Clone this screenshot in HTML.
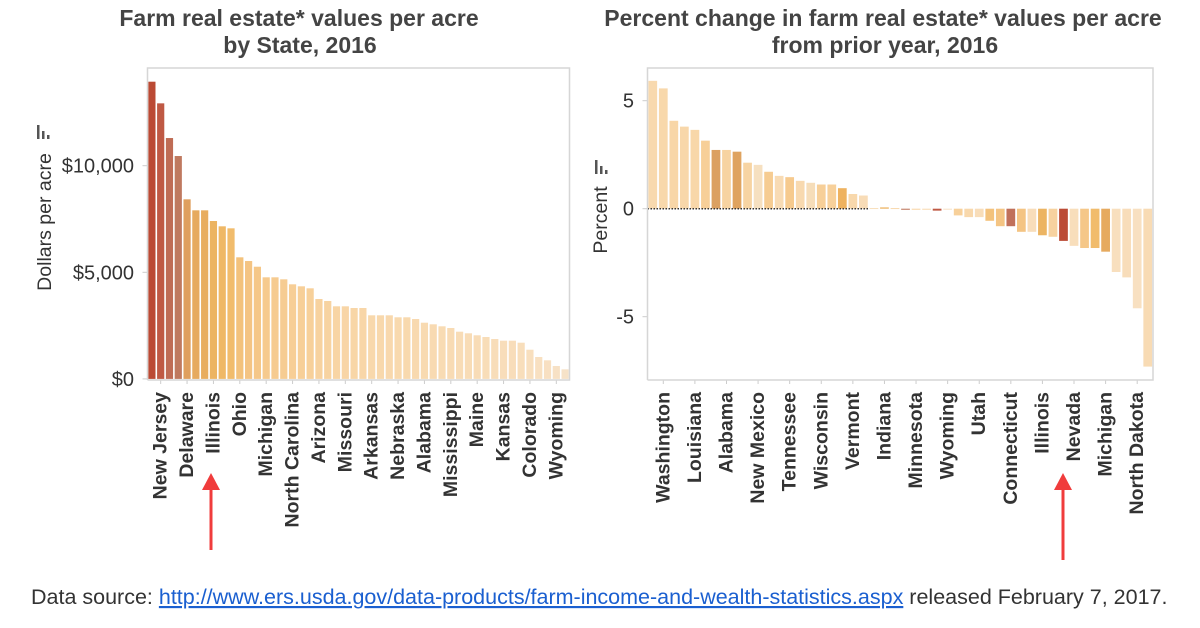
<!DOCTYPE html>
<html><head><meta charset="utf-8"><style>
body{margin:0;background:#fff;width:1200px;height:623px;overflow:hidden;font-family:"Liberation Sans",Arial,sans-serif}
svg text{font-family:"Liberation Sans",Arial,sans-serif}
</style></head><body>
<svg id="s" width="1200" height="623">
<text x="299" y="26" text-anchor="middle" font-size="23" font-weight="bold" fill="#444">Farm real estate* values per acre</text>
<text x="300" y="53" text-anchor="middle" font-size="23" font-weight="bold" fill="#444">by State, 2016</text>
<text x="883" y="26" text-anchor="middle" font-size="23" font-weight="bold" fill="#444">Percent change in farm real estate* values per acre</text>
<text x="885" y="53" text-anchor="middle" font-size="23" font-weight="bold" fill="#444">from prior year, 2016</text>
<text transform="translate(51,222) rotate(-90)" text-anchor="middle" font-size="19.5" fill="#333">Dollars per acre</text>
<text transform="translate(607,220) rotate(-90)" text-anchor="middle" font-size="19.5" fill="#333">Percent</text>
<g fill="#555"><rect x="37" y="125" width="2.5" height="14"/><rect x="42" y="131" width="2.5" height="8"/><rect x="47" y="135" width="2.5" height="4"/></g>
<g fill="#555"><rect x="595" y="160" width="2.5" height="14"/><rect x="600" y="166" width="2.5" height="8"/><rect x="605" y="170" width="2.5" height="4"/></g>
<g id="L"></g>
<g id="R"></g>
<g><line x1="211" y1="550" x2="211" y2="488" stroke="#f03c3c" stroke-width="3"/><polygon points="202,490 220,490 211,473" fill="#f03c3c"/></g>
<g><line x1="1063" y1="560" x2="1063" y2="488" stroke="#f03c3c" stroke-width="3"/><polygon points="1054,490 1072,490 1063,473" fill="#f03c3c"/></g>
<text x="31" y="604" font-size="21.5" fill="#333">Data source: <tspan fill="#1a5fd0" text-decoration="underline">http://www.ers.usda.gov/data-products/farm-income-and-wealth-statistics.aspx</tspan> released February 7, 2017.</text>
</svg>
<script>
const leftStates=["Rhode Island","New Jersey","Connecticut","Massachusetts","Delaware","Maryland","Pennsylvania","Illinois","Indiana","Iowa","Ohio","New York","California","Michigan","Florida","Wisconsin","North Carolina","Virginia","Kentucky","Arizona","Tennessee","Louisiana","Missouri","Minnesota","Georgia","Arkansas","Vermont","New Hampshire","Nebraska","Washington","South Carolina","Alabama","Idaho","West Virginia","Mississippi","Oregon","Texas","Maine","South Dakota","Utah","Kansas","Oklahoma","Nevada","Colorado","North Dakota","Montana","Wyoming","New Mexico"];
const leftValues=[13940,12925,11298,10454,8423,7907,7907,7406,7157,7063,5703,5529,5262,4765,4765,4671,4437,4343,4249,3747,3654,3405,3405,3325,3325,2983,2983,2983,2889,2889,2809,2636,2561,2467,2387,2214,2139,2045,1965,1871,1792,1792,1698,1369,1027,872,605,450];
const leftColors=["#bb4a34","#bf5944","#bf6c55","#bf795f","#df9f5e","#e6aa5f","#e8ad5f","#ecb462","#efb866","#f1bc6c","#f3c27c","#f4c483","#f5c788","#f6ca8e","#f6cb90","#f6cc92","#f7ce96","#f7cf98","#f7d09a","#f7d29f","#f7d3a1","#f8d5a5","#f8d5a6","#f8d6a7","#f8d6a8","#f8d8ac","#f8d8ac","#f8d8ad","#f8d9ae","#f8d9ae","#f8d9af","#f8dab1","#f8dab2","#f8dbb3","#f8dbb4","#f8dcb6","#f8dcb6","#f8dcb7","#f8ddb8","#f8ddb9","#f8ddba","#f8ddba","#f8debb","#f8dfbe","#f8e0c1","#f8e0c2","#f7e1c5","#f6e2c8"];
const leftTickVals=[0,5000,10000];
const leftTickLabels=["$0","$5,000","$10,000"];
const rightStates=["Oregon","Washington","Idaho","Montana","Louisiana","Texas","Maryland","Alabama","Pennsylvania","Georgia","New Mexico","Florida","Mississippi","Tennessee","South Carolina","North Carolina","Wisconsin","Virginia","Delaware","Vermont","Maine","Colorado","Indiana","New Hampshire","Massachusetts","Minnesota","West Virginia","New Jersey","Wyoming","Kentucky","Arkansas","Utah","Ohio","Missouri","Connecticut","New York","Oklahoma","Illinois","Arizona","Rhode Island","Nevada","California","Iowa","Michigan","Nebraska","Kansas","North Dakota","South Dakota"];
const rightValues=[5.92,5.57,4.07,3.80,3.65,3.15,2.72,2.72,2.64,2.13,2.03,1.71,1.52,1.46,1.29,1.20,1.12,1.12,0.95,0.68,0.61,0.03,0.06,0.03,-0.05,-0.05,-0.05,-0.09,-0.02,-0.31,-0.39,-0.39,-0.56,-0.81,-0.81,-1.07,-1.07,-1.23,-1.30,-1.49,-1.72,-1.82,-1.82,-1.99,-2.93,-3.18,-4.61,-7.31];
const rightColors=["#f8d9ae","#f8d8ab","#f8d6a7","#f8d7aa","#f8d7a9","#f7cf98","#dba062","#f7d3a1","#dfa35f","#f7d4a3","#f6e0c0","#f6cc92","#f8dbb4","#f6ca8e","#f8d9af","#f6ddb9","#f7cf98","#f7d09a","#eeb25f","#f8d8ac","#f8dcb7","#f8debb","#ecb462","#f8d8ad","#bf795f","#f8d6a8","#f8dbb3","#bf5944","#f7e1c5","#f7d09a","#f8d8ac","#f8ddb9","#f3c27c","#f4c483","#c0705a","#f4c483","#f8ddba","#ecb462","#f7d29f","#bb4a34","#f8debb","#f5c788","#f1bc6c","#e6aa5f","#f8dfbe","#f8ddba","#f8e0c1","#f8dbb4"];
const rightTickVals=[-5,0,5];
const rightTickLabels=["-5","0","5"];
const NS="http://www.w3.org/2000/svg";
function mk(tag,attrs,parent,txt){const e=document.createElementNS(NS,tag);for(const k in attrs)e.setAttribute(k,attrs[k]);if(txt!==undefined)e.textContent=txt;parent.appendChild(e);return e;}
(function(){
const g=document.getElementById('L');
const x0=147.5,x1=569.5,yTop=68,yBot=380;
const y=v=>378.9-v/5000*106.6;
const bw=(x1-x0)/leftValues.length;
for(let i=0;i<leftTickVals.length;i++){
 const t=mk('text',{x:134,y:y(leftTickVals[i])+7,'text-anchor':'end','font-size':20,fill:'#333'},g,leftTickLabels[i]);
 
 
 mk('line',{x1:x0-5,x2:x0,y1:y(leftTickVals[i]),y2:y(leftTickVals[i]),stroke:'#ccc'},g);
}
leftValues.forEach((v,i)=>{
 const r=mk('rect',{x:x0+i*bw+0.8,y:y(v),width:bw-1.6,height:y(0)-y(v),fill:leftColors[i]},g);
 
 
 if(i%3===1){
  const cx=x0+(i+0.5)*bw;
  mk('line',{x1:cx,x2:cx,y1:yBot,y2:yBot+4,stroke:'#ccc'},g);
  const t=mk('text',{transform:`translate(${cx+6},${yBot+12}) rotate(-90)`,'text-anchor':'end','font-size':19.5,'font-weight':'bold',fill:'#333'},g,leftStates[i]);
  
  
 }
});
mk('path',{d:`M${x0},${yBot}V${yTop}H${x1}V${yBot}H${x0}`,fill:'none',stroke:'#d6d6d6','stroke-width':1.5},g);
})();
(function(){
const g=document.getElementById('R');
const x0=647.5,x1=1153,yTop=68,yBot=380;
const y=v=>208.7-v*21.6;
const bw=(x1-x0)/rightValues.length;
for(let i=0;i<rightTickVals.length;i++){
 const t=mk('text',{x:634,y:y(rightTickVals[i])+7,'text-anchor':'end','font-size':20,fill:'#333'},g,rightTickLabels[i]);
 
 
 mk('line',{x1:x0-5,x2:x0,y1:y(rightTickVals[i]),y2:y(rightTickVals[i]),stroke:'#ccc'},g);
}
rightValues.forEach((v,i)=>{
 const top=Math.min(y(v),y(0)),h=Math.max(Math.abs(y(v)-y(0)),1);
 const r=mk('rect',{x:x0+i*bw+0.9,y:top,width:bw-1.8,height:h,fill:rightColors[i]},g);
 
 
 if(i%3===1){
  const cx=x0+(i+0.5)*bw;
  mk('line',{x1:cx,x2:cx,y1:yBot,y2:yBot+4,stroke:'#ccc'},g);
  const t=mk('text',{transform:`translate(${cx+6},${yBot+12}) rotate(-90)`,'text-anchor':'end','font-size':19.5,'font-weight':'bold',fill:'#333'},g,rightStates[i]);
  
  
 }
});
const z=mk('line',{x1:x0,x2:x0+21*bw,y1:y(0),y2:y(0),stroke:'#333','stroke-width':1.5,'stroke-dasharray':'1.5,1.5'},g);


mk('path',{d:`M${x0},${yBot}V${yTop}H${x1}V${yBot}H${x0}`,fill:'none',stroke:'#d6d6d6','stroke-width':1.5},g);
})();
</script>
</body></html>
